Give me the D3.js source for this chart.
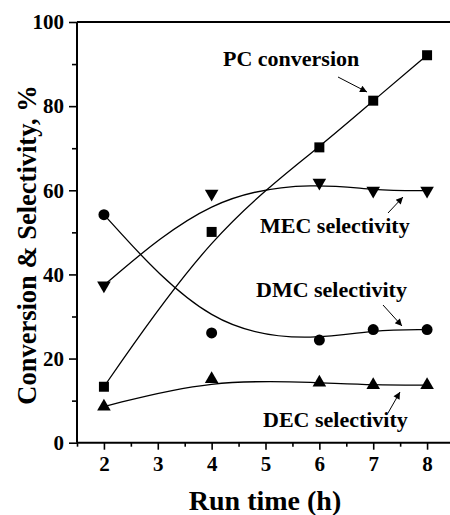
<!DOCTYPE html>
<html>
<head>
<meta charset="utf-8">
<script src="https://cdn.jsdelivr.net/npm/d3@7"></script>
<style>
  html, body { margin: 0; padding: 0; background: #fff; }
  svg { display: block; }
  text { font-family: "Liberation Serif", "Times New Roman", serif; font-weight: bold; fill: #000; }
</style>
</head>
<body>
<svg id="chart" width="450" height="515"></svg>
<script>
// Run times (h)
const runTime = [2, 4, 6, 7, 8];
// Series values, %
const pcConversion   = [13.3, 50.1, 70.2, 81.3, 92.1];
const mecSelectivity = [37.4, 59.2, 61.8, 59.9, 59.9];
const dmcSelectivity = [54.2, 26.1, 24.4, 26.9, 26.9];
const decSelectivity = [8.6, 15.1, 14.3, 13.7, 13.7];
// Axis ticks
const xTicks = [2, 3, 4, 5, 6, 7, 8];
const yTicks = [0, 20, 40, 60, 80, 100];
// Series labels
const seriesNames = ["PC conversion", "MEC selectivity", "DMC selectivity", "DEC selectivity"];

const svg = d3.select("#chart");
const plotLeft = 77, plotTop = 22, plotBottom = 442.7, plotRight = 454;

const x = d3.scaleLinear().domain([1.5, 8.5]).range([plotLeft, plotRight]);
const y = d3.scaleLinear().domain([0, 100]).range([plotBottom, plotTop]);

// Frame: top border
svg.append("line")
  .attr("x1", plotLeft).attr("x2", plotRight).attr("y1", plotTop).attr("y2", plotTop)
  .attr("stroke", "#000").attr("stroke-width", 2);

// Minor ticks
const xMinor = d3.range(1.5, 8.51, 0.5).filter(v => !xTicks.includes(v));
const yMinor = d3.range(10, 100, 20);

const xAxis = svg.append("g").attr("transform", `translate(0,${plotBottom})`)
  .call(d3.axisBottom(x).tickValues(xTicks).tickFormat(d3.format("d")).tickSize(7).tickPadding(6));
const xAxisMinor = svg.append("g").attr("transform", `translate(0,${plotBottom})`)
  .call(d3.axisBottom(x).tickValues(xMinor).tickFormat("").tickSize(4));
const yAxis = svg.append("g").attr("transform", `translate(${plotLeft},0)`)
  .call(d3.axisLeft(y).tickValues(yTicks).tickFormat(d3.format("d")).tickSize(8).tickPadding(5));
const yAxisMinor = svg.append("g").attr("transform", `translate(${plotLeft},0)`)
  .call(d3.axisLeft(y).tickValues(yMinor).tickFormat("").tickSize(5));

[xAxis, xAxisMinor, yAxis, yAxisMinor].forEach(g => {
  g.selectAll(".domain").attr("stroke", "#000").attr("stroke-width", 2);
  g.selectAll(".tick line").attr("stroke", "#000").attr("stroke-width", 1.6);
  g.selectAll("text").attr("font-family", "Liberation Serif").attr("font-weight", "bold")
    .attr("font-size", 21).attr("fill", "#000");
});
xAxisMinor.select(".domain").remove();
yAxisMinor.select(".domain").remove();
xAxis.select(".domain").attr("d", `M${plotLeft},0H${plotRight}`);
yAxis.select(".domain").attr("d", `M0,${plotBottom}V${plotTop}`);

// Axis titles
svg.append("text")
  .attr("x", 265).attr("y", 510)
  .attr("text-anchor", "middle").attr("font-size", 28)
  .text("Run time (h)");
svg.append("text")
  .attr("transform", "translate(36,245) rotate(-90)")
  .attr("text-anchor", "middle").attr("font-size", 26.5)
  .text("Conversion & Selectivity, %");

// Smooth B-spline connectors through the points
const line = d3.line().curve(d3.curveBasis).x(d => x(d[0])).y(d => y(d[1]));
const allSeries = [pcConversion, mecSelectivity, dmcSelectivity, decSelectivity];
const plot = svg.append("g");
allSeries.forEach(vals => {
  plot.append("path")
    .datum(runTime.map((t, i) => [t, vals[i]]))
    .attr("d", line)
    .attr("fill", "none").attr("stroke", "#000").attr("stroke-width", 1.3);
});

// Markers
const symbols = [
  d3.symbol().type(d3.symbolSquare).size(100),
  d3.symbol().type(d3.symbolTriangle).size(80),
  d3.symbol().type(d3.symbolCircle).size(95),
  d3.symbol().type(d3.symbolTriangle).size(80)
];
const rotations = [0, 180, 0, 0];
allSeries.forEach((vals, s) => {
  plot.selectAll(null)
    .data(runTime.map((t, i) => [t, vals[i]]))
    .join("path")
    .attr("d", symbols[s])
    .attr("transform", d => `translate(${x(d[0])},${y(d[1])}) rotate(${rotations[s]})`)
    .attr("fill", "#000");
});

// Series labels with arrows
svg.append("defs").append("marker")
  .attr("id", "arrow").attr("viewBox", "0 0 10 10")
  .attr("refX", 10).attr("refY", 5)
  .attr("markerWidth", 9).attr("markerHeight", 7)
  .attr("markerUnits", "userSpaceOnUse")
  .attr("orient", "auto")
  .append("path").attr("d", "M0,0L10,5L0,10z").attr("fill", "#000");

const labelPos = [[223, 66], [260, 233], [256, 297], [263, 427]];
const arrows = [
  [338, 77, 367, 92],
  [388, 213, 403, 197],
  [383, 305, 402, 326],
  [388, 413, 400, 392]
];
seriesNames.forEach((name, i) => {
  svg.append("text")
    .attr("x", labelPos[i][0]).attr("y", labelPos[i][1])
    .attr("font-size", 22)
    .text(name);
  const a = arrows[i];
  svg.append("line")
    .attr("x1", a[0]).attr("y1", a[1]).attr("x2", a[2]).attr("y2", a[3])
    .attr("stroke", "#000").attr("stroke-width", 1)
    .attr("marker-end", "url(#arrow)");
});
</script>
</body>
</html>
